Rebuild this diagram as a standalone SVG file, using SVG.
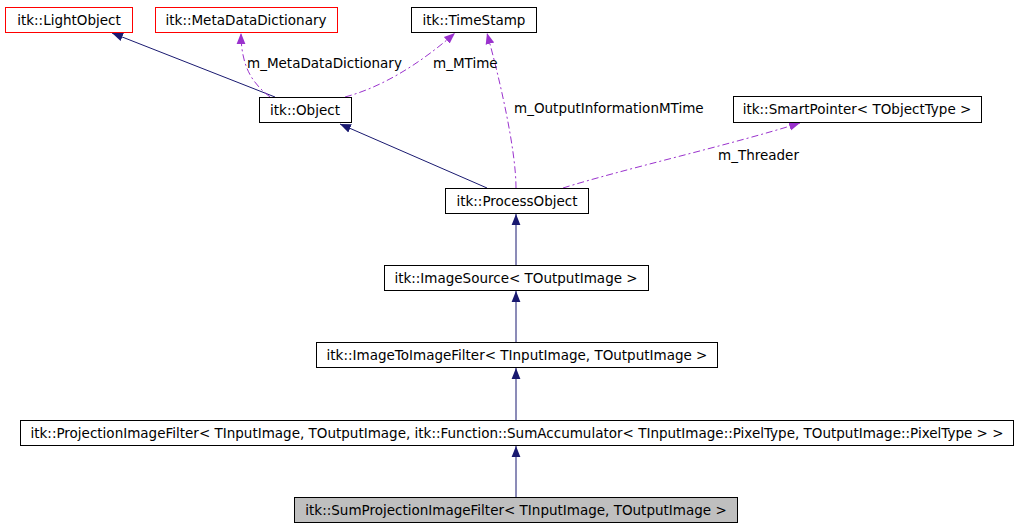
<svg xmlns="http://www.w3.org/2000/svg" width="1017" height="528" viewBox="0 0 1017 528">
<defs>
<marker id="a" viewBox="0 0 10 10" refX="10" refY="5" markerWidth="11" markerHeight="11" markerUnits="userSpaceOnUse" orient="auto"><path d="M0,1 L10,5 L0,9 z" fill="#191970"/></marker>
<marker id="p" viewBox="0 0 10 10" refX="10" refY="5" markerWidth="11" markerHeight="11" markerUnits="userSpaceOnUse" orient="auto"><path d="M0,1 L10,5 L0,9 z" fill="#9a32cd"/></marker>
</defs>
<style>
rect{fill:#fff;stroke:#000;stroke-width:1}
.r{stroke:#f00}
.g{fill:#bfbfbf}
text{font-family:"DejaVu Sans",sans-serif;font-size:13.5px;fill:#000}
.e{fill:none;stroke:#191970;stroke-width:1;marker-end:url(#a)}
.d{fill:none;stroke:#9a32cd;stroke-width:1;stroke-dasharray:7,3,2,3;marker-end:url(#p)}
</style>
<rect width="1017" height="528" style="fill:#fff;stroke:none"/>
<g id="connectors">
<path class="e" d="M275,97 L112,33"/>
<path class="d" d="M270,97 C255,85 241,70 241,33"/>
<path class="d" d="M345,97 C390,85 430,55 455,33"/>
<path class="d" d="M516,188 C516,150 500,80 487,33"/>
<path class="d" d="M563,188 C620,170 730,145 800,123"/>
<path class="e" d="M487,188 L340,124"/>
<path class="e" d="M516,265 L516,214"/>
<path class="e" d="M516,342 L516,291"/>
<path class="e" d="M516,420 L516,368"/>
<path class="e" d="M516,497 L516,446"/>
<text x="247" y="68">m_MetaDataDictionary</text>
<text x="433" y="68">m_MTime</text>
<text x="514" y="113">m_OutputInformationMTime</text>
<text x="718" y="160">m_Threader</text>
</g>
<g id="LightObject"><rect class="r" x="5.5" y="7.5" width="127" height="25"/><text x="69" y="25" text-anchor="middle">itk::LightObject</text></g>
<g id="MetaDataDictionary"><rect class="r" x="155.5" y="7.5" width="182" height="25"/><text x="246" y="25" text-anchor="middle">itk::MetaDataDictionary</text></g>
<g id="TimeStamp"><rect x="411.5" y="7.5" width="125" height="25"/><text x="474" y="25" text-anchor="middle">itk::TimeStamp</text></g>
<g id="Object"><rect x="259.5" y="97.5" width="92" height="25"/><text x="305" y="115" text-anchor="middle">itk::Object</text></g>
<g id="SmartPointer"><rect x="733.5" y="96.5" width="248" height="26"/><text x="857" y="114" text-anchor="middle">itk::SmartPointer&lt; TObjectType &gt;</text></g>
<g id="ProcessObject"><rect x="445.5" y="188.5" width="143" height="25"/><text x="517" y="206" text-anchor="middle">itk::ProcessObject</text></g>
<g id="ImageSource"><rect x="384.5" y="265.5" width="264" height="25"/><text x="516" y="283" text-anchor="middle">itk::ImageSource&lt; TOutputImage &gt;</text></g>
<g id="ImageToImageFilter"><rect x="316.5" y="342.5" width="401" height="25"/><text x="517" y="360" text-anchor="middle">itk::ImageToImageFilter&lt; TInputImage, TOutputImage &gt;</text></g>
<g id="ProjectionImageFilter"><rect x="20.5" y="420.5" width="993" height="25"/><text x="517" y="438" text-anchor="middle">itk::ProjectionImageFilter&lt; TInputImage, TOutputImage, itk::Function::SumAccumulator&lt; TInputImage::PixelType, TOutputImage::PixelType &gt; &gt;</text></g>
<g id="SumProjectionImageFilter"><rect class="g" x="294.5" y="497.5" width="443" height="25"/><text x="516" y="515" text-anchor="middle">itk::SumProjectionImageFilter&lt; TInputImage, TOutputImage &gt;</text></g>
</svg>
